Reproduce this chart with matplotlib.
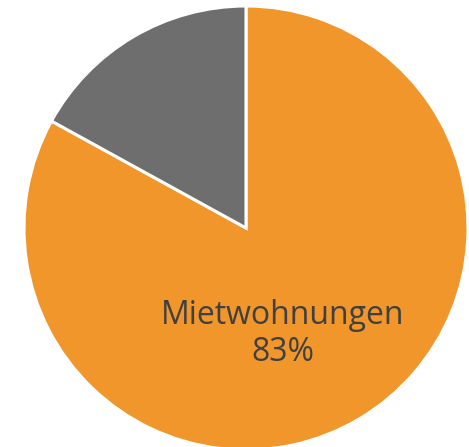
import matplotlib
matplotlib.use("Agg")
import matplotlib.pyplot as plt

categories = ["Mietwohnungen", "Eigentumswohnungen"]
values = [83, 17]
colors = ["#F0962B", "#6E6E6E"]
show_label = [True, False]

W, H = 469, 447
fig = plt.figure(figsize=(W / 100, H / 100), dpi=100)
ax = fig.add_axes([0, 0, 1, 1])
cx, cy, r = 246, H - 228, 222
wedges, _ = ax.pie(values, colors=colors, startangle=90, counterclock=False,
                   center=(cx, cy), radius=r, frame=True,
                   wedgeprops=dict(edgecolor="white", linewidth=2.2))
ax.set_xlim(0, W)
ax.set_ylim(0, H)
ax.set_aspect("equal")
ax.axis("off")

for cat, val, show in zip(categories, values, show_label):
    if show:
        ax.text(283, H - 334, f"{cat}\n{val}%", ha="center", va="center",
                fontsize=23, color="#404040", family="Open Sans", linespacing=1.15)

fig.savefig("out.png", dpi=100)
